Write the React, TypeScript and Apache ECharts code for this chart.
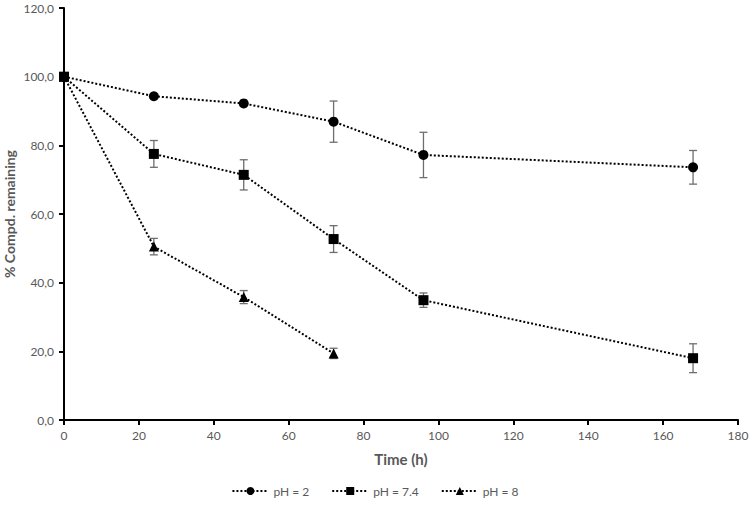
import React, { useEffect, useRef } from "react";
import * as echarts from "echarts";

const times = [0, 24, 48, 72, 96, 168];
const timesPh8 = [0, 24, 48, 72];
const ph2Values = [100, 94.3, 92.2, 86.9, 77.2, 73.6];
const ph2Errors = [0, 0, 0, 6.0, 6.6, 4.9];
const ph74Values = [100, 77.5, 71.4, 52.7, 34.9, 18.0];
const ph74Errors = [0, 3.9, 4.4, 3.9, 2.1, 4.2];
const ph8Values = [100, 50.5, 35.8, 19.4];
const ph8Errors = [0, 2.4, 1.9, 1.5];
const seriesNames = ["pH = 2", "pH = 7.4", "pH = 8"];

const FONT = "Lato, 'Open Sans', sans-serif";
const GREY = "#595959";

function pairs(xs: number[], ys: number[]) {
  return xs.map((x, i) => [x, ys[i]]);
}
function errData(xs: number[], ys: number[], es: number[]) {
  return xs
    .map((x, i) => [x, ys[i] - es[i], ys[i] + es[i]])
    .filter((d, i) => es[i] > 0);
}

const errorRender = (params: any, api: any) => {
  const x = api.value(0);
  const lo = api.coord([x, api.value(1)]);
  const hi = api.coord([x, api.value(2)]);
  const cap = 4;
  const style = { stroke: "#6e6e6e", lineWidth: 1.3 };
  return {
    type: "group",
    children: [
      { type: "line", shape: { x1: lo[0], y1: lo[1], x2: hi[0], y2: hi[1] }, style },
      { type: "line", shape: { x1: lo[0] - cap, y1: lo[1], x2: lo[0] + cap, y2: lo[1] }, style },
      { type: "line", shape: { x1: hi[0] - cap, y1: hi[1], x2: hi[0] + cap, y2: hi[1] }, style },
    ],
  };
};

export default function App() {
  const ref = useRef<HTMLDivElement>(null);
  useEffect(() => {
    if (!ref.current) return;
    const chart = echarts.init(ref.current, undefined, { renderer: "svg" });
    const lineStyle = { color: "#000", width: 2, type: "dotted" as const };
    const mk = (name: string, data: number[][], symbol: string, size: number) => ({
      name,
      type: "line",
      data,
      symbol,
      symbolSize: size,
      showSymbol: true,
      lineStyle,
      itemStyle: { color: "#000" },
      z: 3,
    });
    chart.setOption({
      animation: false,
      grid: { left: 64, right: 12, top: 8, bottom: 88, containLabel: false, outerBoundsMode: "none" },
      legend: {
        data: seriesNames,
        bottom: 6,
        left: "center",
        itemWidth: 36,
        itemHeight: 10,
        itemGap: 22,
        textStyle: { color: GREY, fontSize: 12, fontFamily: FONT },
      },
      xAxis: {
        type: "value",
        min: 0,
        max: 180,
        interval: 20,
        name: "Time (h)",
        nameLocation: "middle",
        nameGap: 31,
        nameMoveOverlap: false,
        nameTextStyle: { color: GREY, fontSize: 15, fontWeight: "bold", fontFamily: FONT },
        axisLine: { lineStyle: { color: "#000", width: 2 } },
        axisTick: { show: true, length: 5, lineStyle: { color: "#000", width: 2 } },
        axisLabel: { color: GREY, fontSize: 12, fontFamily: FONT, margin: 9 },
        splitLine: { show: false },
      },
      yAxis: {
        type: "value",
        min: 0,
        max: 120,
        interval: 20,
        name: "% Compd. remaining",
        nameLocation: "middle",
        nameGap: 48,
        nameMoveOverlap: false,
        nameTextStyle: { color: GREY, fontSize: 14, fontWeight: "bold", fontFamily: FONT },
        axisLine: { show: true, lineStyle: { color: "#000", width: 2 } },
        axisTick: { show: true, length: 5, lineStyle: { color: "#000", width: 2 } },
        axisLabel: {
          color: GREY,
          fontSize: 12,
          fontFamily: FONT,
          margin: 10,
          formatter: (v: number) => v.toFixed(1).replace(".", ","),
        },
        splitLine: { show: false },
      },
      series: [
        mk(seriesNames[0], pairs(times, ph2Values), "circle", 10),
        mk(seriesNames[1], pairs(times, ph74Values), "rect", 10),
        mk(seriesNames[2], pairs(timesPh8, ph8Values), "triangle", 10),
        { type: "custom", name: "err2", renderItem: errorRender, data: errData(times, ph2Values, ph2Errors), z: 2 },
        { type: "custom", name: "err74", renderItem: errorRender, data: errData(times, ph74Values, ph74Errors), z: 2 },
        { type: "custom", name: "err8", renderItem: errorRender, data: errData(timesPh8, ph8Values, ph8Errors), z: 2 },
      ],
    });
    return () => chart.dispose();
  }, []);
  return <div ref={ref} style={{ width: 750, height: 508, position: "absolute", left: 0, top: 0 }} />;
}
